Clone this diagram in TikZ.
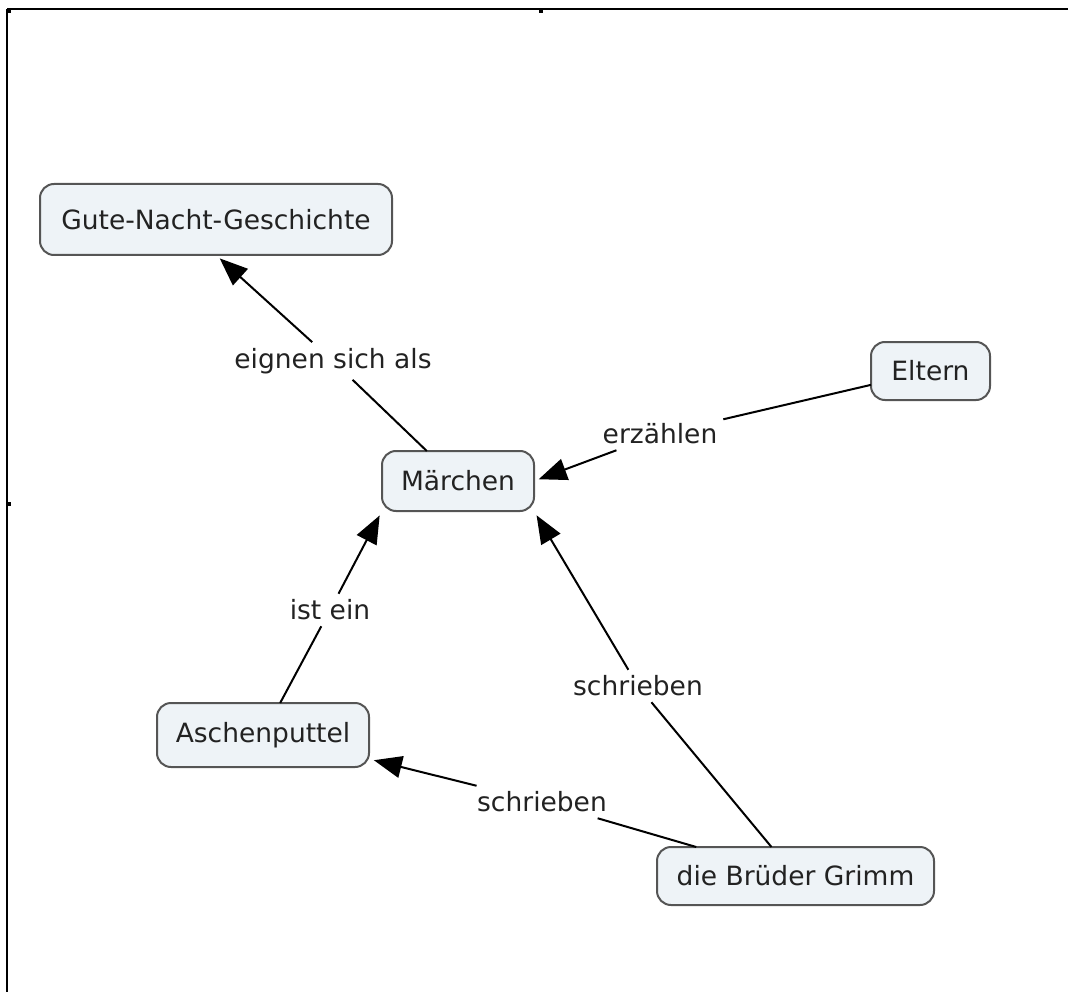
\documentclass[tikz,border=0pt]{standalone}
\usepackage{fontspec}
\setmainfont{DejaVu Sans}
\usetikzlibrary{arrows.meta}
\definecolor{boxfill}{HTML}{EEF3F7}
\definecolor{boxline}{HTML}{555555}
\definecolor{ink}{HTML}{222222}
\begin{document}
\begin{tikzpicture}[x=1pt,y=-1pt,
  concept/.style={draw=boxline,line width=2pt,fill=boxfill,rounded corners=14pt,
    text=ink,font=\fontsize{26.5}{31}\selectfont,inner sep=0pt,outer sep=0pt},
  linklab/.style={text=ink,font=\fontsize{26.5}{31}\selectfont,inner sep=6pt,outer sep=0pt},
  conn/.style={draw=black,line width=2pt},
  arr/.style={conn,-{Triangle[length=28pt,width=22pt]},shorten >=5pt}]
\useasboundingbox (0,0) rectangle (1068,992);
% frame
\draw[line width=2pt] (7,9.5) -- (1068,9.5);
\draw[line width=2pt] (7,9) -- (7,992);
\fill (7,9) rectangle (11,13);
\fill (539,9) rectangle (543,13);
\fill (7,502) rectangle (11,506);
% concepts
\node[concept,minimum width=352pt,minimum height=71pt] (gute) at (216,219.5) {Gute-Nacht-Geschichte};
\node[concept,minimum width=152pt,minimum height=60pt] (m) at (458,481) {Märchen};
\node[concept,minimum width=119pt,minimum height=58pt] (el) at (930.5,371) {Eltern};
\node[concept,minimum width=212pt,minimum height=64pt] (as) at (263,735) {Aschenputtel};
\node[concept,minimum width=277pt,minimum height=58pt] (gr) at (795.5,876) {die Brüder Grimm};
% link labels
\node[linklab] (l1) at (333,361) {eignen sich als};
\node[linklab] (l2) at (660,434) {erzählen};
\node[linklab] (l3) at (330,610) {ist ein};
\node[linklab] (l4) at (638,686) {schrieben};
\node[linklab] (l5) at (542,802) {schrieben};
% connectors
\draw[conn] (m) -- (l1);
\draw[arr] (l1) -- (gute.south);
\draw[conn] (el) -- (l2);
\draw[arr] (l2) -- (m.east);
\draw[conn] (as) -- (l3);
\draw[arr] (l3) -- (m.south west);
\draw[conn] (gr) -- (l4);
\draw[arr] (l4) -- (m.south east);
\draw[conn] (gr) -- (l5);
\draw[arr] (l5) -- ([yshift=-24pt]as.east);
\end{tikzpicture}
\end{document}
